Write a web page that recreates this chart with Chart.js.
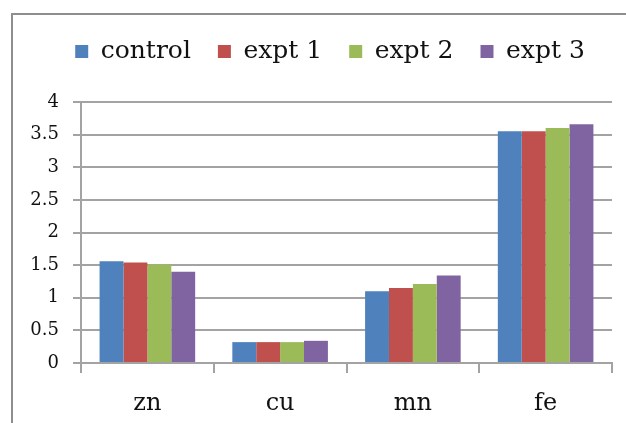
<!DOCTYPE html>
<html>
<head>
<meta charset="utf-8">
<script src="https://cdn.jsdelivr.net/npm/chart.js@4/dist/chart.umd.min.js"></script>
<style>
  html, body { margin: 0; padding: 0; background: #fff; }
  #wrap { position: relative; width: 626px; height: 423px; }
</style>
</head>
<body>
<div id="wrap"><canvas id="c" width="626" height="423"></canvas></div>
<script>
// Trace element concentrations by treatment
const categories = ['zn', 'cu', 'mn', 'fe'];
const control = [1.56, 0.32, 1.10, 3.55];
const expt1   = [1.54, 0.32, 1.15, 3.55];
const expt2   = [1.51, 0.32, 1.21, 3.60];
const expt3   = [1.40, 0.34, 1.34, 3.66];
const seriesNames = ['control', 'expt 1', 'expt 2', 'expt 3'];
const yTicks = [0, 0.5, 1, 1.5, 2, 2.5, 3, 3.5, 4];

const colors = ['#4F81BD', '#C0504D', '#9BBB59', '#8064A2'];
const gridGrey = '#a3a3a3';
const serif = "'DejaVu Serif', 'Liberation Serif', serif";

// Frame along the top and left edges of the chart object
const framePlugin = {
  id: 'frame',
  beforeDraw(chart) {
    const ctx = chart.ctx;
    ctx.save();
    ctx.strokeStyle = '#8e8e8e';
    ctx.lineWidth = 2;
    ctx.beginPath();
    ctx.moveTo(12, 423);
    ctx.lineTo(12, 14);
    ctx.lineTo(626, 14);
    ctx.stroke();
    ctx.restore();
  }
};

// Extra room below the legend row, and a slight shift of the legend to the right
const legendPlacePlugin = {
  id: 'legendPlace',
  afterInit(chart) {
    const legend = chart.legend;
    if (!legend) return;
    const fit = legend.fit;
    legend.fit = function () {
      fit.call(this);
      this.height += 28;
    };
  },
  afterLayout(chart) {
    const legend = chart.legend;
    if (!legend) return;
    legend.left += 17;
    legend.right += 17;
  }
};

const data = {
  labels: categories,
  datasets: [control, expt1, expt2, expt3].map((vals, i) => ({
    label: seriesNames[i],
    data: vals,
    backgroundColor: colors[i],
    borderWidth: 0,
    categoryPercentage: 0.72,
    barPercentage: 1.0
  }))
};

new Chart(document.getElementById('c'), {
  type: 'bar',
  data,
  plugins: [framePlugin, legendPlacePlugin],
  options: {
    responsive: false,
    animation: false,
    devicePixelRatio: 1,
    layout: { padding: { left: 14, right: 14, top: 12, bottom: 0 } },
    plugins: {
      legend: {
        position: 'top',
        labels: {
          boxWidth: 13,
          boxHeight: 13,
          padding: 27,
          color: '#111',
          font: { family: serif, size: 25 }
        }
      },
      tooltip: { enabled: false }
    },
    scales: {
      x: {
        afterFit(scale) { scale.height = 60; },
        grid: {
          offset: true,
          drawOnChartArea: false,
          color: gridGrey,
          lineWidth: 2,
          tickLength: 10
        },
        border: { color: gridGrey, width: 2 },
        ticks: {
          color: '#111',
          font: { family: serif, size: 24 },
          padding: 16
        }
      },
      y: {
        min: 0,
        max: 4,
        afterBuildTicks(scale) {
          scale.ticks = yTicks.map(v => ({ value: v }));
        },
        afterFit(scale) { scale.width = 67; },
        grid: {
          color: gridGrey,
          lineWidth: 2,
          tickLength: 8
        },
        border: { color: gridGrey, width: 2 },
        ticks: {
          color: '#111',
          font: { family: serif, size: 18 },
          padding: 14,
          callback: (v) => String(v)
        }
      }
    }
  }
});
</script>
</body>
</html>
